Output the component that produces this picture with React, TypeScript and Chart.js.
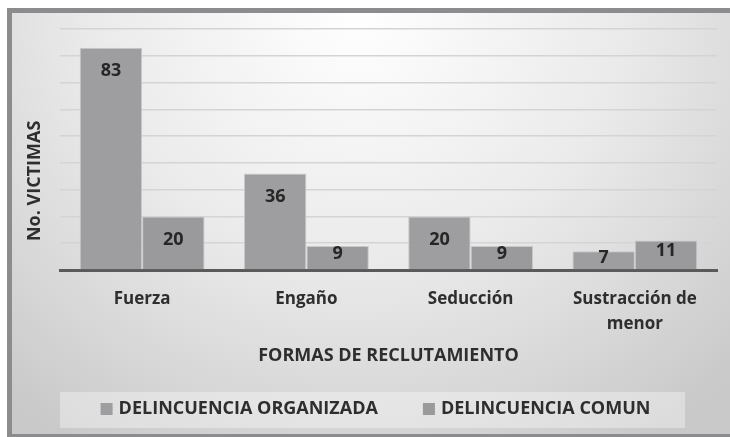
import { useEffect, useRef } from "react";
import { Chart, registerables } from "chart.js";

Chart.register(...registerables);

const categories: (string | string[])[] = ["Fuerza", "Engaño", "Seducción", ["Sustracción de", "menor"]];
const organizada = [83, 36, 20, 7];
const comun = [20, 9, 9, 11];
const seriesNames = ["DELINCUENCIA ORGANIZADA", "DELINCUENCIA COMUN"];
const yMin = 0;
const yMax = 90;
const yStep = 10;
const yTitle = "No. VICTIMAS";
const xTitle = "FORMAS DE RECLUTAMIENTO";

const FONT = "'Open Sans', 'DejaVu Sans', sans-serif";
const TEXT = "#2e2e2e";
const BAR_ORG = "#9e9ea0";
const BAR_COM = "#9a9a9c";

const valueLabels = {
  id: "valueLabels",
  afterDatasetsDraw(chart: any) {
    const ctx = chart.ctx;
    ctx.save();
    ctx.font = `bold 18px ${FONT}`;
    ctx.fillStyle = "#262626";
    ctx.textAlign = "center";
    ctx.textBaseline = "middle";
    chart.data.datasets.forEach((ds: any, di: number) => {
      const meta = chart.getDatasetMeta(di);
      meta.data.forEach((bar: any, i: number) => {
        const { x, y, base } = bar.getProps(["x", "y", "base"], true);
        const h = base - y;
        const off = h > 40 ? 23 : h * 0.35;
        ctx.fillText(String(ds.data[i]), x, y + off);
      });
    });
    ctx.restore();
  },
};

const yAxisTitle = {
  id: "yAxisTitle",
  afterDraw(chart: any) {
    const { ctx, chartArea } = chart;
    const cx = chartArea.left - 25;
    const cy = chartArea.top + (chartArea.bottom - chartArea.top) * 0.63;
    ctx.save();
    ctx.translate(cx, cy);
    ctx.rotate(-Math.PI / 2);
    ctx.font = `bold 18px ${FONT}`;
    ctx.fillStyle = TEXT;
    ctx.textAlign = "center";
    ctx.textBaseline = "middle";
    ctx.fillText(yTitle, 0, 0);
    ctx.restore();
  },
};

const boxLegend = {
  id: "boxLegend",
  afterDraw(chart: any) {
    const { ctx, chartArea } = chart;
    const top = chart.height - 42;
    const bottom = chart.height - 6;
    const left = chartArea.left;
    const right = chartArea.right - 32;
    ctx.save();
    ctx.fillStyle = "rgba(255,255,255,0.35)";
    ctx.fillRect(left, top, right - left, bottom - top);
    ctx.font = `bold 18px ${FONT}`;
    ctx.textBaseline = "middle";
    ctx.textAlign = "left";
    const box = 12;
    const gap = 6;
    const itemGap = 45;
    const items = chart.data.datasets.map((ds: any) => ({
      label: ds.label as string,
      color: ds.backgroundColor as string,
      w: ctx.measureText(ds.label).width,
    }));
    let total = 0;
    items.forEach((it: any, i: number) => {
      total += box + gap + it.w + (i < items.length - 1 ? itemGap : 0);
    });
    let x = (left + right) / 2 + 3 - total / 2;
    const cy = top + 17;
    items.forEach((it: any) => {
      ctx.fillStyle = it.color;
      ctx.fillRect(x, cy - box / 2, box, box);
      x += box + gap;
      ctx.fillStyle = TEXT;
      ctx.fillText(it.label, x, cy);
      x += it.w + itemGap;
    });
    ctx.restore();
  },
};

export default function App() {
  const ref = useRef<HTMLCanvasElement | null>(null);

  useEffect(() => {
    if (!ref.current) return;
    const chart = new Chart(ref.current, {
      type: "bar",
      data: {
        labels: categories as any,
        datasets: [
          {
            label: seriesNames[0],
            data: organizada,
            backgroundColor: BAR_ORG,
            borderColor: "#c9c9cb",
            borderWidth: 1,
            categoryPercentage: 0.76,
            barPercentage: 1,
          },
          {
            label: seriesNames[1],
            data: comun,
            backgroundColor: BAR_COM,
            borderColor: "#c9c9cb",
            borderWidth: 1,
            categoryPercentage: 0.76,
            barPercentage: 1,
          },
        ],
      },
      options: {
        responsive: false,
        animation: false,
        devicePixelRatio: 1,
        layout: { padding: { left: 12, right: 13, top: 16, bottom: 42.5 } },
        plugins: {
          legend: { display: false },
          tooltip: { enabled: false },
          title: { display: false },
        },
        scales: {
          x: {
            afterFit: (s: any) => {
              s.height = 121.5;
            },
            grid: { display: false, drawTicks: false },
            border: { display: true, color: "#5a5a5a", width: 3 },
            ticks: {
              color: TEXT,
              padding: 16,
              font: { family: FONT, size: 17, weight: "bold" as any, lineHeight: 1.5 },
              maxRotation: 0,
              autoSkip: false,
            },
            title: {
              display: true,
              text: xTitle,
              color: TEXT,
              font: { family: FONT, size: 18, weight: "bold" as any },
              padding: { top: 0, bottom: 25 },
            },
          },
          y: {
            min: yMin,
            max: yMax,
            afterFit: (s: any) => {
              s.width = 36;
            },
            ticks: { display: false, stepSize: yStep },
            grid: {
              drawTicks: false,
              color: (c: any) => (c.tick && c.tick.value === 0 ? "rgba(0,0,0,0)" : "#d4d4d4"),
              lineWidth: 1.5,
            },
            border: { display: false },
            title: { display: false },
          },
        },
      },
      plugins: [valueLabels, yAxisTitle, boxLegend],
    });
    return () => chart.destroy();
  }, []);

  return (
    <div
      style={{
        position: "absolute",
        left: 7,
        top: 8,
        width: 718,
        height: 421,
        borderLeft: "5px solid #8c8c8e",
        borderTop: "5px solid #8c8c8e",
        borderBottom: "3px solid #8c8c8e",
        background:
          "radial-gradient(ellipse 75% 120% at 48% 0%, #ffffff 0%, #eaeaea 50%, #c9c9c9 100%)",
      }}
    >
      <canvas ref={ref} width={718} height={421} style={{ display: "block" }} />
    </div>
  );
}
